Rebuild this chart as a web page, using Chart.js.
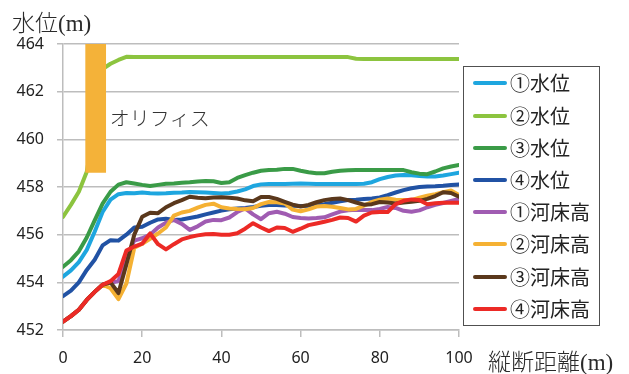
<!DOCTYPE html>
<html lang="ja">
<head>
<meta charset="utf-8">
<title>縦断水位・河床高</title>
<script src="https://cdn.jsdelivr.net/npm/chart.js@4/dist/chart.umd.min.js"></script>
<style>
  html, body { margin: 0; padding: 0; background: #ffffff; }
  #wrap { position: relative; width: 629px; height: 374px; overflow: hidden; }
  #chart { position: absolute; left: 0; top: 0; }
  .axis-title {
    position: absolute; white-space: nowrap; color: #2a2a2a;
    font-family: "Liberation Serif", "Noto Sans CJK JP", serif;
    font-size: 23px; line-height: 23px;
  }
  .axis-title .jp { font-family: "Noto Sans CJK JP", sans-serif; font-weight: 300; }
  #legend {
    position: absolute; left: 463px; top: 66px; width: 137px; height: 260px;
    box-sizing: border-box; border: 1px solid #505050; background: #fff;
  }
  .item { position: absolute; left: 0; height: 24px; width: 135px; }
  .swatch { position: absolute; left: 9px; top: 10px; width: 34px; height: 4px; border-radius: 2px; }
  .name {
    position: absolute; left: 46px; top: 0; line-height: 24px; font-size: 20px; color: #222;
    font-family: "Noto Sans CJK JP", sans-serif; white-space: nowrap;
  }
</style>
</head>
<body>
<div id="wrap">
  <canvas id="chart" width="629" height="374"></canvas>
  <div class="axis-title" style="left:12px; top:10px;"><span class="jp">水位</span>(m)</div>
  <div class="axis-title" style="left:488px; top:349px;"><span class="jp">縦断距離</span>(m)</div>
  <div id="legend"></div>
</div>
<script>
// Longitudinal distance of each surveyed section (m)
const distance = [0, 2, 4, 6, 8, 10, 12, 14, 16, 18, 20, 22, 24, 26, 28, 30, 32, 34, 36, 38, 40,
  42, 44, 46, 48, 50, 52, 54, 56, 58, 60, 62, 64, 66, 68, 70, 72, 74, 76, 78, 80,
  82, 84, 86, 88, 90, 92, 94, 96, 98, 100];

// Water levels (m)
const waterLevel1 = [454.24, 454.50, 454.85, 455.36, 456.12, 456.95, 457.47, 457.70, 457.75, 457.74, 457.77,
  457.74, 457.73, 457.74, 457.76, 457.77, 457.79, 457.78, 457.77, 457.75, 457.73,
  457.75, 457.81, 457.90, 458.04, 458.11, 458.13, 458.13, 458.13, 458.14, 458.15,
  458.14, 458.13, 458.13, 458.13, 458.13, 458.13, 458.13, 458.14, 458.20, 458.33,
  458.42, 458.48, 458.50, 458.49, 458.46, 458.44, 458.44, 458.48, 458.54, 458.60];
const waterLevel2 = [456.75, 457.25, 457.80, 458.64, 460.60, 462.95, 463.17, 463.33, 463.46, 463.45, 463.45,
  463.45, 463.45, 463.45, 463.45, 463.45, 463.45, 463.45, 463.45, 463.45, 463.45,
  463.45, 463.45, 463.45, 463.45, 463.45, 463.45, 463.45, 463.45, 463.45, 463.45,
  463.45, 463.45, 463.45, 463.45, 463.45, 463.45, 463.38, 463.37, 463.37, 463.37,
  463.37, 463.37, 463.37, 463.37, 463.37, 463.37, 463.37, 463.37, 463.37, 463.37];
const waterLevel3 = [454.65, 454.93, 455.30, 455.88, 456.60, 457.30, 457.80, 458.10, 458.20, 458.15, 458.09,
  458.04, 458.09, 458.14, 458.15, 458.18, 458.20, 458.23, 458.25, 458.24, 458.17,
  458.20, 458.38, 458.50, 458.60, 458.68, 458.71, 458.72, 458.76, 458.76, 458.68,
  458.62, 458.58, 458.58, 458.64, 458.68, 458.70, 458.71, 458.71, 458.71, 458.71,
  458.71, 458.71, 458.71, 458.62, 458.56, 458.54, 458.65, 458.78, 458.86, 458.92];
const waterLevel4 = [453.42, 453.65, 454.00, 454.52, 454.95, 455.55, 455.77, 455.75, 456.00, 456.30, 456.33,
  456.50, 456.64, 456.67, 456.62, 456.64, 456.70, 456.76, 456.85, 456.93, 457.01,
  457.07, 457.10, 457.12, 457.16, 457.21, 457.24, 457.24, 457.22, 457.21, 457.20,
  457.21, 457.24, 457.28, 457.34, 457.40, 457.45, 457.47, 457.50, 457.52, 457.56,
  457.66, 457.77, 457.87, 457.95, 458.00, 458.02, 458.03, 458.05, 458.08, 458.11];

// Bed elevations (m)
const bedLevel1 = [452.35, 452.58, 452.85, 453.26, 453.60, 453.90, 453.98, 454.05, 455.00, 455.75, 455.85,
  456.00, 456.30, 456.50, 456.62, 456.45, 456.20, 456.35, 456.55, 456.62, 456.61,
  456.72, 456.95, 457.10, 456.85, 456.65, 456.90, 456.96, 456.88, 456.74, 456.70,
  456.68, 456.70, 456.73, 456.85, 456.97, 457.02, 457.05, 457.04, 457.03, 457.08,
  457.16, 457.12, 457.00, 456.96, 457.02, 457.15, 457.25, 457.33, 457.42, 457.50];
const bedLevel2 = [452.35, 452.58, 452.85, 453.26, 453.60, 453.90, 453.75, 453.30, 453.95, 455.45, 455.62,
  455.83, 456.05, 456.30, 456.80, 456.93, 457.00, 457.13, 457.25, 457.30, 457.15,
  457.10, 457.08, 457.07, 457.12, 457.28, 457.37, 457.36, 457.31, 457.05, 456.98,
  457.06, 457.18, 457.20, 457.17, 457.12, 457.06, 457.08, 457.22, 457.37, 457.47,
  457.52, 457.47, 457.45, 457.45, 457.55, 457.63, 457.70, 457.78, 457.85, 457.66];
const bedLevel3 = [452.35, 452.58, 452.85, 453.26, 453.60, 453.90, 454.00, 453.55, 454.75, 456.00, 456.75,
  456.92, 456.90, 457.15, 457.32, 457.45, 457.59, 457.55, 457.53, 457.56, 457.57,
  457.55, 457.52, 457.44, 457.40, 457.58, 457.58, 457.50, 457.38, 457.26, 457.18,
  457.25, 457.36, 457.45, 457.50, 457.52, 457.45, 457.35, 457.26, 457.28, 457.37,
  457.35, 457.31, 457.35, 457.38, 457.42, 457.50, 457.62, 457.78, 457.75, 457.59];
const bedLevel4 = [452.35, 452.58, 452.85, 453.26, 453.60, 453.90, 454.05, 454.35, 455.33, 455.50, 455.62,
  456.05, 455.60, 455.38, 455.60, 455.80, 455.90, 455.97, 456.02, 456.03, 456.00,
  456.00, 456.06, 456.25, 456.48, 456.30, 456.15, 456.30, 456.28, 456.12, 456.25,
  456.40, 456.47, 456.54, 456.62, 456.72, 456.70, 456.55, 456.80, 456.93, 456.95,
  456.95, 457.28, 457.42, 457.48, 457.45, 457.28, 457.32, 457.34, 457.34, 457.34];

const seriesNames = ["①水位", "②水位", "③水位", "④水位", "①河床高", "②河床高", "③河床高", "④河床高"];
const seriesValues = [waterLevel1, waterLevel2, waterLevel3, waterLevel4, bedLevel1, bedLevel2, bedLevel3, bedLevel4];
const seriesColors = ["#1ea6df", "#8cc43f", "#3a9b47", "#2152a4", "#a05cb2", "#f5b133", "#5a381c", "#ec2a26"];

// Orifice: spans this distance range, from its crest down to its bottom (m)
const orificeFrom = 5.6, orificeTo = 10.9;
const orificeTop = 464.0, orificeBottom = 458.6;
const orificeLabel = "オリフィス";
const orificeLabelAt = { x: 11.8, y: 460.87 };

// y-axis ticks
const yMin = 452, yMax = 464, yStep = 2;
const xMin = 0, xMax = 100, xStep = 20;

const datasets = seriesValues.map((vals, i) => ({
  label: seriesNames[i],
  data: vals.map((v, k) => ({ x: distance[k], y: v })),
  borderColor: seriesColors[i],
  backgroundColor: seriesColors[i],
  borderWidth: 4,
  pointRadius: 0,
  tension: 0,
  fill: false,
  borderJoinStyle: "round",
  borderCapStyle: "round",
  order: seriesValues.length - i
}));

datasets.push({
  label: orificeLabel,
  data: [{ x: orificeFrom, y: orificeTop }, { x: orificeTo, y: orificeTop }],
  borderWidth: 0,
  borderColor: "rgba(0,0,0,0)",
  backgroundColor: "#f4b239",
  pointRadius: 0,
  fill: { value: orificeBottom },
  order: 0
});

const orificeText = {
  id: "orificeText",
  afterDatasetsDraw(chart) {
    const { ctx, scales } = chart;
    ctx.save();
    ctx.font = '300 20px "Noto Sans CJK JP", sans-serif';
    ctx.fillStyle = "#333333";
    ctx.textAlign = "left";
    ctx.textBaseline = "middle";
    ctx.fillText(orificeLabel, scales.x.getPixelForValue(orificeLabelAt.x), scales.y.getPixelForValue(orificeLabelAt.y));
    ctx.restore();
  }
};

const gridGray = "#bdbdbd";
const tickFont = { family: '"Noto Sans", "Liberation Sans", sans-serif', size: 16 };

new Chart(document.getElementById("chart"), {
  type: "line",
  data: { datasets },
  options: {
    responsive: false,
    devicePixelRatio: 1,
    animation: false,
    layout: { padding: { top: 44, right: 170, bottom: 0, left: 0 } },
    plugins: { legend: { display: false }, tooltip: { enabled: false } },
    scales: {
      x: {
        type: "linear",
        min: xMin, max: xMax,
        ticks: { stepSize: xStep, color: "#222", font: tickFont, padding: 12, maxRotation: 0 },
        grid: { drawOnChartArea: false, drawTicks: true, tickLength: 7, color: gridGray, lineWidth: 1.5 },
        border: { display: true, color: gridGray, width: 1.5 },
        afterFit(scale) { scale.height = 44; }
      },
      y: {
        type: "linear",
        min: yMin, max: yMax,
        ticks: { stepSize: yStep, color: "#222", font: tickFont, padding: 13 },
        grid: { drawTicks: true, tickLength: 6, color: gridGray, lineWidth: 1.5 },
        border: { display: true, color: gridGray, width: 1.5 },
        afterFit(scale) { scale.width = 63; }
      }
    }
  },
  plugins: [orificeText]
});

// Legend entries built from the series above
const legend = document.getElementById("legend");
seriesNames.forEach((name, i) => {
  const item = document.createElement("div");
  item.className = "item";
  item.style.top = (4.3 + i * 32.2) + "px";
  const sw = document.createElement("div");
  sw.className = "swatch";
  sw.style.background = seriesColors[i];
  const tx = document.createElement("div");
  tx.className = "name";
  tx.textContent = name;
  item.appendChild(sw);
  item.appendChild(tx);
  legend.appendChild(item);
});
</script>
</body>
</html>
